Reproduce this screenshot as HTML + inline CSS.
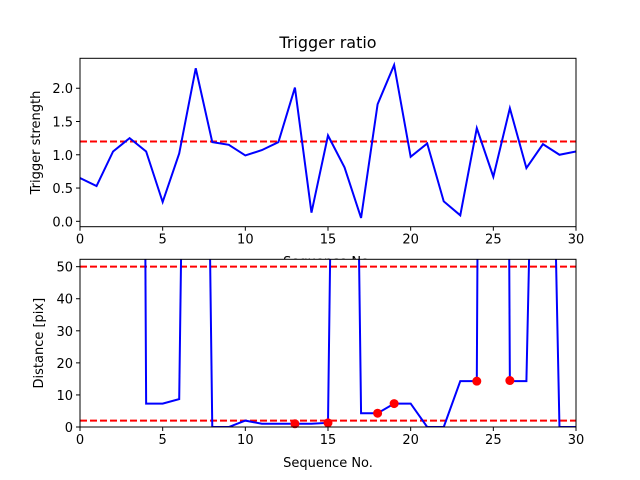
<!DOCTYPE html>
<html><head><meta charset="utf-8"><style>
html,body{margin:0;padding:0;background:#fff;}
svg{display:block;font-family:"DejaVu Sans","Liberation Sans",sans-serif;}
</style></head><body>
<svg id="chart" width="640" height="480" xmlns="http://www.w3.org/2000/svg"></svg>
<script>
const seqTop = [0,1,2,3,4,5,6,7,8,9,10,11,12,13,14,15,16,17,18,19,20,21,22,23,24,25,26,27,28,29,30];
const triggerStrength = [0.65,0.53,1.05,1.25,1.05,0.29,1.02,2.30,1.19,1.15,0.99,1.07,1.19,2.01,0.13,1.29,0.81,0.05,1.76,2.35,0.97,1.17,0.30,0.09,1.40,0.67,1.70,0.80,1.16,1.00,1.05];
const triggerThreshold = 1.2;
const distance = [1000,1000,1000,1000,7.3,7.3,8.7,400,0,0,2,1,1,1,1,1.3,400,4.3,4.3,7.3,7.3,0,0,14.3,14.3,1000,14.3,14.3,250,0,0];
const markerSeq = [13,15,18,19,24,26];
const markerDist = [1.0,1.3,4.3,7.3,14.3,14.5];
const distThresholds = [50,2];
const xTicks = [0,5,10,15,20,25,30];
const topYTicks = [0.0,0.5,1.0,1.5,2.0];
const topYLabels = ["0.0","0.5","1.0","1.5","2.0"];
const botYTicks = [0,10,20,30,40,50];

const NS="http://www.w3.org/2000/svg";
const svg=document.getElementById('chart');
function mk(tag,attrs,parent){const e=document.createElementNS(NS,tag);for(const k in attrs)e.setAttribute(k,attrs[k]);(parent||svg).appendChild(e);return e;}
const L=80,R=576;
const xS=v=>L+(v-0)/(30-0)*(R-L);
const T1=58.3,B1=226.7,y1min=-0.081,y1max=2.45;
const y1=v=>B1-(v-y1min)/(y1max-y1min)*(B1-T1);
const T2=259.3,B2=427,y2min=0,y2max=52.3;
const y2=v=>B2-(v-y2min)/(y2max-y2min)*(B2-T2);

// title
let t=mk('text',{x:(L+R)/2,y:48,'text-anchor':'middle','font-size':'16'});t.textContent='Trigger ratio';



// top axes
mk('defs',{}).innerHTML='<clipPath id="c1"><rect x="'+L+'" y="'+T1+'" width="'+(R-L)+'" height="'+(B1-T1)+'"/></clipPath><clipPath id="c2"><rect x="'+L+'" y="'+T2+'" width="'+(R-L)+'" height="'+(B2-T2)+'"/></clipPath>';
let g1=mk('g',{});


let th=mk('line',{x1:L,x2:R,y1:y1(triggerThreshold),y2:y1(triggerThreshold),stroke:'#f00','stroke-width':2,'stroke-dasharray':'7,3','clip-path':'url(#c1)'},g1);


let p1=mk('polyline',{points:seqTop.map((s,i)=>xS(s)+','+y1(triggerStrength[i])).join(' '),fill:'none',stroke:'#00f','stroke-width':2,'clip-path':'url(#c1)'},g1);


let f1=mk('rect',{x:L,y:T1,width:R-L,height:B1-T1,fill:'none',stroke:'#000','stroke-width':1},g1);


xTicks.forEach(v=>{
 mk('line',{x1:xS(v),x2:xS(v),y1:B1,y2:B1+4,stroke:'#000'},g1);
 let tx=mk('text',{x:xS(v),y:B1+17,'text-anchor':'middle','font-size':'13'},g1);tx.textContent=v;
 
 
});
topYTicks.forEach((v,i)=>{
 mk('line',{x1:L-4,x2:L,y1:y1(v),y2:y1(v),stroke:'#000'},g1);
 let tx=mk('text',{x:L-7,y:y1(v)+5,'text-anchor':'end','font-size':'13'},g1);tx.textContent=topYLabels[i];
 
 
});
let yl1=mk('text',{x:0,y:0,'text-anchor':'middle','font-size':'13',transform:'translate(40,'+((T1+B1)/2)+') rotate(-90)'},g1);yl1.textContent='Trigger strength';


let xl1=mk('text',{x:(L+R)/2,y:266,'text-anchor':'middle','font-size':'13'},g1);xl1.textContent='Sequence No.';



// bottom axes
let g2=mk('g',{});


mk('rect',{x:L,y:T2,width:R-L,height:B2-T2,fill:'#fff'},g2);
distThresholds.forEach(v=>{
 let l=mk('line',{x1:L,x2:R,y1:y2(v),y2:y2(v),stroke:'#f00','stroke-width':2,'stroke-dasharray':'7,3','clip-path':'url(#c2)'},g2);
 
 
});
let p2=mk('polyline',{points:seqTop.map((s,i)=>xS(s)+','+y2(distance[i])).join(' '),fill:'none',stroke:'#00f','stroke-width':2,'clip-path':'url(#c2)'},g2);


markerSeq.forEach((s,i)=>{
 let c=mk('circle',{cx:xS(s),cy:y2(markerDist[i]),r:4.5,fill:'#f00'},g2);
 
 
});
let f2=mk('rect',{x:L,y:T2,width:R-L,height:B2-T2,fill:'none',stroke:'#000','stroke-width':1},g2);


xTicks.forEach(v=>{
 mk('line',{x1:xS(v),x2:xS(v),y1:B2,y2:B2+4,stroke:'#000'},g2);
 let tx=mk('text',{x:xS(v),y:B2+17,'text-anchor':'middle','font-size':'13'},g2);tx.textContent=v;
 
 
});
botYTicks.forEach(v=>{
 mk('line',{x1:L-4,x2:L,y1:y2(v),y2:y2(v),stroke:'#000'},g2);
 let tx=mk('text',{x:L-7,y:y2(v)+5,'text-anchor':'end','font-size':'13'},g2);tx.textContent=v;
 
 
});
let yl2=mk('text',{x:0,y:0,'text-anchor':'middle','font-size':'13',transform:'translate(43,'+((T2+B2)/2)+') rotate(-90)'},g2);yl2.textContent='Distance [pix]';


let xl2=mk('text',{x:(L+R)/2,y:467,'text-anchor':'middle','font-size':'13'},g2);xl2.textContent='Sequence No.';


</script>
</body></html>
